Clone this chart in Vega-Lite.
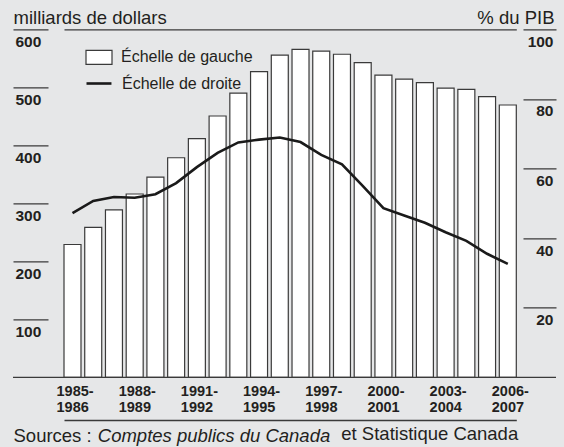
{
  "$schema": "https://vega.github.io/schema/vega-lite/v6.json",
  "width": 543,
  "height": 348,
  "autosize": "none",
  "padding": {"left": 13, "top": 29.3, "right": 8, "bottom": 69.7},
  "background": "#e6e7e8",
  "config": {
    "view": {"stroke": null},
    "font": "Liberation Sans",
    "axis": {"labelFont": "Liberation Sans", "titleFont": "Liberation Sans", "labelColor": "#231f20", "titleColor": "#231f20", "tickColor": "#3a3a3a", "domainColor": "#3a3a3a"},
    "legend": {"labelFont": "Liberation Sans"}
  },
  "title": {
    "text": "et Statistique Canada",
    "orient": "bottom",
    "anchor": "start",
    "frame": "group",
    "dx": 328.3,
    "dy": -5,
    "offset": 0,
    "baseline": "alphabetic",
    "font": "Liberation Sans",
    "fontSize": 18.5,
    "fontWeight": "normal",
    "color": "#231f20"
  },
  "data": {
    "values": [
      {"annee": "1985-1986", "dette": 229, "pib": 47.2},
      {"annee": "1986-1987", "dette": 258.5, "pib": 50.7},
      {"annee": "1987-1988", "dette": 288.5, "pib": 51.8},
      {"annee": "1988-1989", "dette": 316, "pib": 51.6},
      {"annee": "1989-1990", "dette": 345, "pib": 52.6},
      {"annee": "1990-1991", "dette": 378.5, "pib": 55.8},
      {"annee": "1991-1992", "dette": 411.5, "pib": 60.4},
      {"annee": "1992-1993", "dette": 450.5, "pib": 64.5},
      {"annee": "1993-1994", "dette": 490, "pib": 67.5},
      {"annee": "1994-1995", "dette": 527, "pib": 68.3},
      {"annee": "1995-1996", "dette": 555.5, "pib": 68.9},
      {"annee": "1996-1997", "dette": 565.5, "pib": 67.6},
      {"annee": "1997-1998", "dette": 562.5, "pib": 63.9},
      {"annee": "1998-1999", "dette": 557, "pib": 61.2},
      {"annee": "1999-2000", "dette": 542.5, "pib": 55.0},
      {"annee": "2000-2001", "dette": 521, "pib": 48.6},
      {"annee": "2001-2002", "dette": 514, "pib": 46.5},
      {"annee": "2002-2003", "dette": 508, "pib": 44.4},
      {"annee": "2003-2004", "dette": 498.5, "pib": 41.7},
      {"annee": "2004-2005", "dette": 496.5, "pib": 39.2},
      {"annee": "2005-2006", "dette": 484, "pib": 35.5},
      {"annee": "2006-2007", "dette": 469.5, "pib": 32.6}
    ]
  },
  "layer": [
    {
      "layer": [
        {
          "mark": {"type": "bar", "stroke": "#3a3a3a", "strokeWidth": 1.2},
          "encoding": {
            "x": {
              "field": "annee",
              "type": "ordinal",
              "sort": null,
              "scale": {"type": "band", "paddingInner": 0.18, "paddingOuter": 0, "range": [51, 503.3]},
              "axis": {
                "orient": "bottom",
                "offset": 42.7,
                "domain": true,
                "domainWidth": 1.3,
                "ticks": false,
                "tickSize": 0,
                "grid": false,
                "values": ["1985-1986", "1988-1989", "1991-1992", "1994-1995", "1997-1998", "2000-2001", "2003-2004", "2006-2007"],
                "labelExpr": "[slice(datum.label, 0, 5), slice(datum.label, 5)]",
                "labelAngle": 0,
                "labelAlign": "left",
                "labelBaseline": "alphabetic",
                "labelPadding": -24.7,
                "labelOffset": -16,
                "labelLineHeight": 16.7,
                "labelFontSize": 14.5,
                "labelFontWeight": "bold",
                "labelFlush": false,
                "labelOverlap": false,
                "title": "Sources :",
                "titleX": 0,
                "titleY": 21.7,
                "titleAlign": "left",
                "titleAnchor": "start",
                "titleBaseline": "alphabetic",
                "titleFontSize": 18.5,
                "titleFontWeight": "normal"
              }
            },
            "y": {
              "field": "dette",
              "type": "quantitative",
              "scale": {"domain": [0, 600], "nice": false, "zero": true},
              "axis": {
                "orient": "left",
                "offset": -35,
                "tickSize": 35,
                "tickWidth": 1.2,
                "domain": false,
                "grid": false,
                "values": [100, 200, 300, 400, 500, 600],
                "labelAlign": "left",
                "labelPadding": -2,
                "labelBaseline": "alphabetic",
                "labelOffset": 17,
                "labelFontSize": 15.5,
                "labelFontWeight": "bold",
                "labelFlush": false,
                "labelOverlap": false,
                "title": "milliards de dollars",
                "titleAngle": 0,
                "titleX": -35,
                "titleY": -6,
                "titleAlign": "left",
                "titleBaseline": "alphabetic",
                "titleFontSize": 18.5,
                "titleFontWeight": "normal"
              }
            },
            "fill": {
              "datum": "Échelle de gauche",
              "scale": {"domain": ["Échelle de gauche"], "range": ["white"]},
              "legend": {
                "orient": "none",
                "legendX": 72,
                "legendY": 14,
                "title": null,
                "padding": 0,
                "symbolType": "M-1,-0.54H1V0.54H-1Z",
                "symbolSize": 676,
                "symbolStrokeColor": "#3a3a3a",
                "symbolStrokeWidth": 1.2,
                "symbolFillColor": "white",
                "labelFontSize": 16,
                "labelOffset": 8,
                "labelColor": "#231f20",
                "labelLimit": 0
              }
            }
          }
        },
        {
          "data": {"values": [{"base": 0}]},
          "mark": {"type": "rule", "color": "#3a3a3a", "strokeWidth": 1.3},
          "encoding": {
            "y": {"field": "base", "type": "quantitative"}
          }
        }
      ]
    },
    {
      "mark": {"type": "line", "strokeWidth": 2.6},
      "encoding": {
        "x": {
          "field": "annee",
          "type": "ordinal",
          "sort": null,
          "axis": {
            "orient": "top",
            "domain": true,
            "domainWidth": 1.3,
            "ticks": false,
            "labels": false,
            "grid": false,
            "title": "Comptes publics du Canada",
            "titleFontStyle": "italic",
            "titleX": 84.3,
            "titleY": 412.4,
            "titleAlign": "left",
            "titleAnchor": "start",
            "titleBaseline": "alphabetic",
            "titleFontSize": 18.5,
            "titleFontWeight": "normal"
          }
        },
        "y": {
          "field": "pib",
          "type": "quantitative",
          "scale": {"domain": [0, 100], "nice": false},
          "axis": {
            "orient": "right",
            "offset": -33,
            "tickSize": 33,
            "tickWidth": 1.2,
            "domain": false,
            "grid": false,
            "values": [20, 40, 60, 80, 100],
            "labelAlign": "right",
            "labelPadding": -3,
            "labelBaseline": "alphabetic",
            "labelOffset": 17,
            "labelFontSize": 15.5,
            "labelFontWeight": "bold",
            "labelFlush": false,
            "labelOverlap": false,
            "title": "% du PIB",
            "titleAngle": 0,
            "titleX": 31,
            "titleY": -6,
            "titleAlign": "right",
            "titleBaseline": "alphabetic",
            "titleFontSize": 18.5,
            "titleFontWeight": "normal"
          }
        },
        "stroke": {
          "datum": "Échelle de droite",
          "scale": {"domain": ["Échelle de droite"], "range": ["#1a1a1a"]},
          "legend": {
            "orient": "none",
            "legendX": 72,
            "legendY": 39.7,
            "title": null,
            "padding": 0,
            "symbolType": "M-1,0H0.92",
            "symbolSize": 676,
            "symbolStrokeWidth": 2.6,
            "labelFontSize": 16,
            "labelOffset": 8,
            "labelColor": "#231f20",
            "labelLimit": 0
          }
        }
      }
    }
  ],
  "resolve": {"scale": {"y": "independent"}, "axis": {"x": "independent"}}
}
